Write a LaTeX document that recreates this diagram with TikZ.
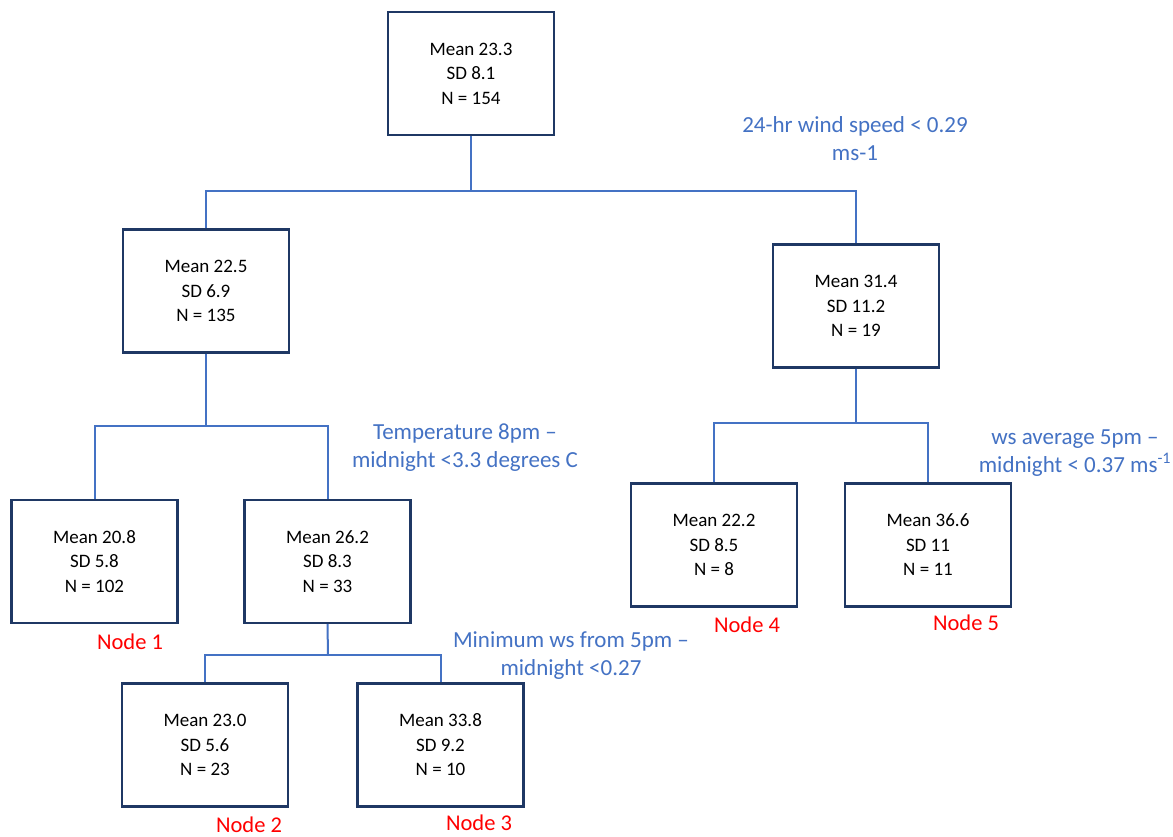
\documentclass[tikz,border=0pt]{standalone}
\usepackage{fontspec}
\setmainfont{Carlito}
\definecolor{boxc}{HTML}{1F3864}
\definecolor{linec}{HTML}{4472C4}
\definecolor{redc}{HTML}{FF0000}
\tikzset{
  treebox/.style={draw=boxc, line width=2.4pt, fill=white, minimum width=166pt, minimum height=123pt, align=center, inner sep=0pt, font=\fontsize{19}{24.5}\selectfont, text=black},
  conn/.style={draw=linec, line width=2pt},
  rule/.style={align=center, text=linec, font=\fontsize{23}{28}\selectfont, inner sep=0pt},
  leaflabel/.style={text=redc, font=\fontsize{22.5}{27}\selectfont, inner sep=0pt}
}
\begin{document}
\begin{tikzpicture}[x=1pt,y=-1pt]
\useasboundingbox[fill=white] (0,0) rectangle (1173,836);
% boxes
\node[treebox] (root) at (471,73.5) {Mean 23.3\\SD 8.1\\N = 154};
\node[treebox] (A) at (206,291) {Mean 22.5\\SD 6.9\\N = 135};
\node[treebox] (B) at (856,306) {Mean 31.4\\SD 11.2\\N = 19};
\node[treebox] (L1) at (94.5,561.5) {Mean 20.8\\SD 5.8\\N = 102};
\node[treebox] (C) at (327.5,561.5) {Mean 26.2\\SD 8.3\\N = 33};
\node[treebox] (L4) at (714,545) {Mean 22.2\\SD 8.5\\N = 8};
\node[treebox] (L5) at (928,545) {Mean 36.6\\SD 11\\N = 11};
\node[treebox] (L2) at (205,745) {Mean 23.0\\SD 5.6\\N = 23};
\node[treebox] (L3) at (440.5,745) {Mean 33.8\\SD 9.2\\N = 10};
% junctions
\coordinate (j0) at (471,191);
\coordinate (j1) at (206,426);
\coordinate (j2) at (856,423);
\coordinate (j3) at (328,655);
% connectors
\draw[conn] (root.south) -- (j0);
\draw[conn] (A.north) |- (j0) -| (B.north);
\draw[conn] (A.south) -- (j1);
\draw[conn] (L1.north) |- (j1) -| (C.north);
\draw[conn] (B.south) -- (j2);
\draw[conn] (L4.north) |- (j2) -| (L5.north);
\draw[conn] (C.south) -- (j3);
\draw[conn] (L2.north) |- (j3) -| (L3.north);
% split rules
\node[rule] (r0) at (855,139) {24-hr wind speed < 0.29\\ms-1};
\node[rule] (r1) at (465,448) {Temperature 8pm –\\midnight <3.3 degrees C};
\node[rule] (r2) at (1075,453) {ws average 5pm –\\midnight < 0.37 ms\textsuperscript{-1}};
\node[rule] (r3) at (571,656) {Minimum ws from 5pm –\\midnight <0.27};
% leaf labels
\node[leaflabel] (n1) at (130,642) {Node 1};
\node[leaflabel] (n2) at (249,825) {Node 2};
\node[leaflabel] (n3) at (479,823) {Node 3};
\node[leaflabel] (n4) at (747,625) {Node 4};
\node[leaflabel] (n5) at (966,623) {Node 5};
\end{tikzpicture}
\end{document}
